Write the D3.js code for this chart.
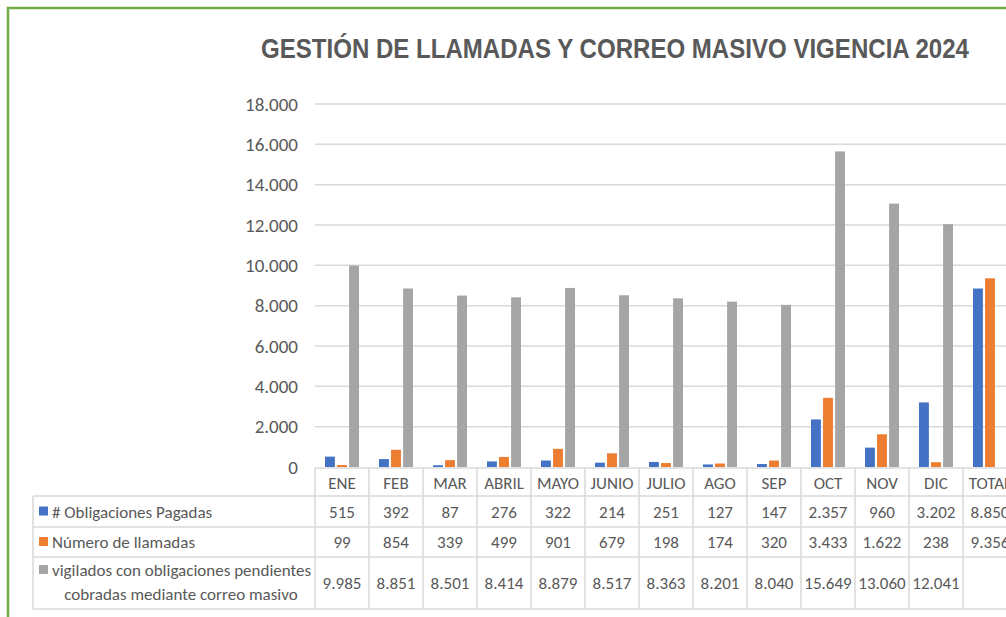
<!DOCTYPE html>
<html>
<head>
<meta charset="utf-8">
<script src="https://cdn.jsdelivr.net/npm/d3@7"></script>
<style>
  html, body { margin: 0; padding: 0; background: #fff; }
  svg { display: block; }
</style>
</head>
<body>
<svg id="chart" width="1006" height="617"></svg>
<script>
// categories and series
const months = ['ENE', 'FEB', 'MAR', 'ABRIL', 'MAYO', 'JUNIO', 'JULIO', 'AGO', 'SEP', 'OCT', 'NOV', 'DIC', 'TOTAL']
const obligaciones = [515, 392, 87, 276, 322, 214, 251, 127, 147, 2357, 960, 3202, 8850]
const llamadas = [99, 854, 339, 499, 901, 679, 198, 174, 320, 3433, 1622, 238, 9356]
const correo = [9985, 8851, 8501, 8414, 8879, 8517, 8363, 8201, 8040, 15649, 13060, 12041, null]
const yTicks = [0, 2000, 4000, 6000, 8000, 10000, 12000, 14000, 16000, 18000]

const seriesNames = [
  ['# Obligaciones Pagadas'],
  ['Número de llamadas'],
  ['vigilados con obligaciones pendientes', 'cobradas mediante correo masivo']
]
const seriesColors = ['#4472C4', '#ED7D31', '#A5A5A5']
const seriesValues = [obligaciones, llamadas, correo]

const locale = d3.formatLocale({ decimal: ',', thousands: '.', grouping: [3], currency: ['$', ''] })
const fmt = locale.format(',d')

const svg = d3.select('#chart')
const textColor = '#595959'
const gridColor = '#D9D9D9'
const font = 'Carlito, Lato, "Open Sans", sans-serif'

// green frame
svg.append('path')
  .attr('d', 'M 8 617 L 8 8 L 1006 8')
  .attr('fill', 'none')
  .attr('stroke', '#70AD47')
  .attr('stroke-width', 2.5)

// title
svg.append('text')
  .attr('x', 615)
  .attr('y', 58)
  .attr('text-anchor', 'middle')
  .attr('font-family', '"Liberation Sans Narrow", "Arial Narrow", "Liberation Sans", sans-serif')
  .attr('font-weight', 'bold')
  .attr('font-size', 27)
  .attr('fill', textColor)
  .attr('textLength', 708)
  .attr('lengthAdjust', 'spacingAndGlyphs')
  .text('GESTIÓN DE LLAMADAS Y CORREO MASIVO VIGENCIA 2024')

const x = d3.scaleBand().domain(months).range([315, 1017])
const xInner = d3.scaleBand().domain([0, 1, 2]).range([10, 44]).paddingInner(0.18)
const y = d3.scaleLinear().domain([0, 18000]).range([467, 104])

// gridlines
svg.append('g')
  .selectAll('line')
  .data(yTicks.slice(1))
  .join('line')
  .attr('x1', 315)
  .attr('x2', 1006)
  .attr('y1', d => y(d))
  .attr('y2', d => y(d))
  .attr('stroke', gridColor)
  .attr('stroke-width', 1.5)

// y labels
svg.append('g')
  .selectAll('text')
  .data(yTicks)
  .join('text')
  .attr('x', 298)
  .attr('y', d => y(d) + 6.5)
  .attr('text-anchor', 'end')
  .attr('font-family', font)
  .attr('font-size', 19)
  .attr('fill', textColor)
  .text(d => fmt(d))

// bars
seriesValues.forEach((vals, s) => {
  svg.append('g')
    .selectAll('rect')
    .data(vals.map((v, i) => ({ m: months[i], v })).filter(d => d.v != null))
    .join('rect')
    .attr('x', d => x(d.m) + xInner(s))
    .attr('width', xInner.bandwidth())
    .attr('y', d => y(d.v))
    .attr('height', d => y(0) - y(d.v))
    .attr('fill', seriesColors[s])
})

// data table
const rowTops = [468, 496, 527, 557, 609]
const tableLeft = 33
const table = svg.append('g').attr('stroke', gridColor).attr('stroke-width', 1.5)

rowTops.forEach((ty, i) => {
  table.append('line')
    .attr('x1', i === 0 ? 315 : tableLeft)
    .attr('x2', 1017)
    .attr('y1', ty)
    .attr('y2', ty)
})
table.append('line').attr('x1', tableLeft).attr('x2', tableLeft).attr('y1', rowTops[1]).attr('y2', rowTops[4])
months.forEach(m => {
  table.append('line')
    .attr('x1', x(m)).attr('x2', x(m))
    .attr('y1', rowTops[0]).attr('y2', rowTops[4])
})

// header labels
svg.append('g')
  .selectAll('text')
  .data(months)
  .join('text')
  .attr('x', d => x(d) + x.bandwidth() / 2)
  .attr('y', 489)
  .attr('text-anchor', 'middle')
  .attr('font-family', font)
  .attr('font-size', 17)
  .attr('fill', textColor)
  .text(d => d)

// rows
seriesValues.forEach((vals, s) => {
  const top = rowTops[s + 1]
  const bottom = rowTops[s + 2]
  const mid = (top + bottom) / 2
  const row = svg.append('g')

  const names = seriesNames[s]
  const swatchY = names.length > 1 ? top + 8 : mid - 5
  row.append('rect')
    .attr('x', 39)
    .attr('y', swatchY)
    .attr('width', 9)
    .attr('height', 9)
    .attr('fill', seriesColors[s])

  if (names.length === 1) {
    row.append('text')
      .attr('x', 52)
      .attr('y', mid + 6)
      .attr('font-family', font)
      .attr('font-size', 17)
      .attr('fill', textColor)
      .text(names[0])
  } else {
    row.append('text')
      .attr('x', 52)
      .attr('y', top + 19)
      .attr('font-family', font)
      .attr('font-size', 17)
      .attr('fill', textColor)
      .text(names[0])
    row.append('text')
      .attr('x', 181)
      .attr('y', top + 43)
      .attr('text-anchor', 'middle')
      .attr('font-family', font)
      .attr('font-size', 17)
      .attr('fill', textColor)
      .text(names[1])
  }

  row.selectAll('text.val')
    .data(vals.map((v, i) => ({ m: months[i], v })).filter(d => d.v != null))
    .join('text')
    .attr('class', 'val')
    .attr('x', d => x(d.m) + x.bandwidth() / 2)
    .attr('y', mid + 6)
    .attr('text-anchor', 'middle')
    .attr('font-family', font)
    .attr('font-size', 17)
    .attr('fill', textColor)
    .text(d => fmt(d.v))
})
</script>
</body>
</html>
